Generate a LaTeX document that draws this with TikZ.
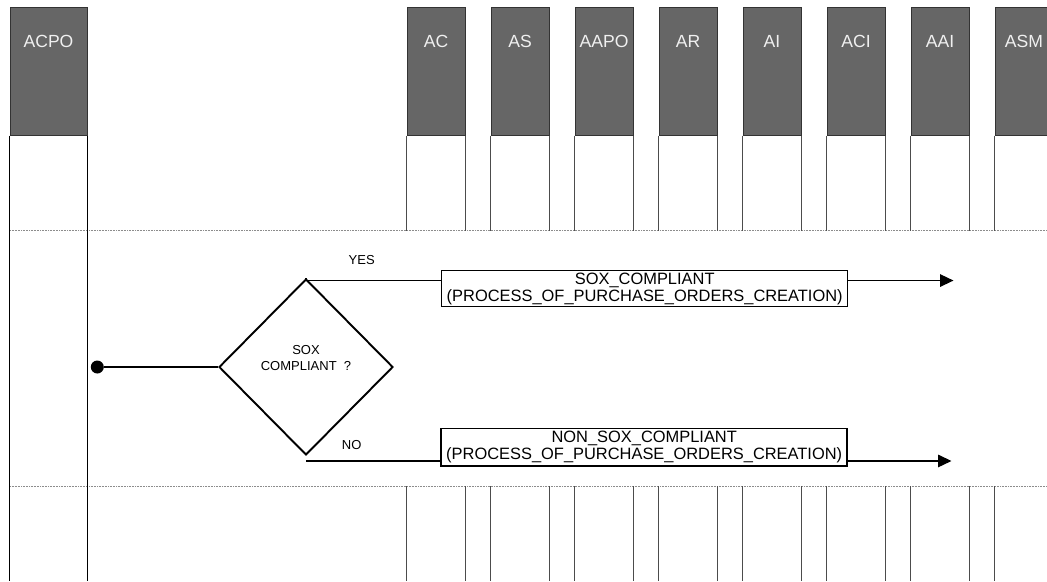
\documentclass[tikz,border=0pt]{standalone}
\usepackage{fontspec}
\setmainfont{Liberation Sans}
\usepackage{tikz}
\usetikzlibrary{shapes.geometric}
\usetikzlibrary{arrows.meta}
\usetikzlibrary{calc}
\definecolor{headgray}{rgb}{0.4, 0.4, 0.4}
\definecolor{linegray}{rgb}{0.3, 0.3, 0.3}
\definecolor{lanegray}{rgb}{0.55, 0.55, 0.55}

\tikzset{
	colhead/.style={draw=black!80, fill=headgray, minimum width=1.16cm, minimum height=2.56cm, inner sep=0pt, anchor=north},
	headtext/.style={text=white!94!black, font=\fontsize{10}{12}\selectfont},
	colline/.style={linegray, line width=0.6pt},
	lane/.style={lanegray, line width=0.5pt, dash pattern=on 0.5pt off 0.4pt},
	flow/.style={black, line width=0.85pt},
	flowarrow/.style={flow, -{Triangle[length=0.27cm, width=0.25cm]}},
	procbox/.style={draw, line width=0.85pt, minimum width=8.12cm, inner sep=1pt, align=center, font=\fontsize{9.35}{9.7}\selectfont},
	decision/.style={diamond, draw, line width=1.1pt, minimum width=3.48cm, minimum height=3.52cm, inner sep=0pt},
	smalltext/.style={font=\fontsize{7.4}{9.5}\selectfont, align=center}
}

\begin{document}
\begin{tikzpicture}
	\useasboundingbox (0,0) rectangle (20.94,-11.62);
	\def\toprow{-0.14}
	\def\lanetop{-4.60}
	\def\lanebot{-9.72}
	\coordinate (bot) at (0,-11.62);

	% swimlane borders
	\draw[lane] (0.2,\lanetop) -- (20.94,\lanetop);
	\draw[lane] (0.2,\lanebot) -- (20.94,\lanebot);

	% first column
	\node[colhead, minimum width=1.54cm] (hACPO) at (0.97,\toprow) {};
	\node[headtext] at ([yshift=-0.69cm]hACPO.north) {ACPO};
	\draw[colline, black] (hACPO.south west) -- (hACPO.west |- bot);
	\draw[colline, black] (hACPO.south east) -- (hACPO.east |- bot);

	% other columns
	\foreach \name [count=\i from 0] in {AC,AS,AAPO,AR,AI,ACI,AAI,ASM} {
		\pgfmathsetmacro{\cx}{8.72+1.68*\i}
		\node[colhead] (h\name) at (\cx,\toprow) {};
		\node[headtext] at ([yshift=-0.69cm]h\name.north) {\name};
		\draw[colline] (h\name.south west) -- ++(0,-1.9);
		\draw[colline] (h\name.south east) -- ++(0,-1.9);
		\draw[colline] ($(h\name.west |- bot)+(0,1.9)$) -- (h\name.west |- bot);
		\draw[colline] ($(h\name.east |- bot)+(0,1.9)$) -- (h\name.east |- bot);
	}

	% decision
	\node[circle, fill, inner sep=0pt, minimum size=0.26cm] (start) at (1.946,-7.34) {};
	\node[decision] (dec) at (6.12,-7.34) {};
	\node[smalltext] at ([yshift=0.18cm]dec.center) {SOX\\COMPLIANT\ \ ?};
	\draw[flow] (start) -- (dec.west);

	\node[procbox, minimum height=0.72cm] (yesbox) at (12.894,-5.774) {SOX\_COMPLIANT\\(PROCESS\_OF\_PURCHASE\_ORDERS\_CREATION)};
	\node[procbox, minimum height=0.754cm] (nobox) at (12.884,-8.943) {NON\_SOX\_COMPLIANT\\(PROCESS\_OF\_PURCHASE\_ORDERS\_CREATION)};

	\coordinate (yesstart) at ([yshift=-0.05cm]dec.north);
	\coordinate (yesend) at (19.07,-5.6);
	\coordinate (nostart) at ([yshift=-0.1cm]dec.south);
	\coordinate (noend) at (19.03,-9.2);

	\draw[flow] (dec.north) -- (yesstart) -- (yesstart -| yesbox.west);
	\draw[flowarrow] (yesstart -| yesbox.east) -- (yesstart -| yesend);
	\node[smalltext] at (7.234,-5.2) {YES};

	\draw[flow] (nostart) -- (nostart -| nobox.west);
	\draw[flowarrow] (nostart -| nobox.east) -- (nostart -| noend);
	\node[smalltext] at (7.034,-8.9) {NO};
\end{tikzpicture}
\end{document}
